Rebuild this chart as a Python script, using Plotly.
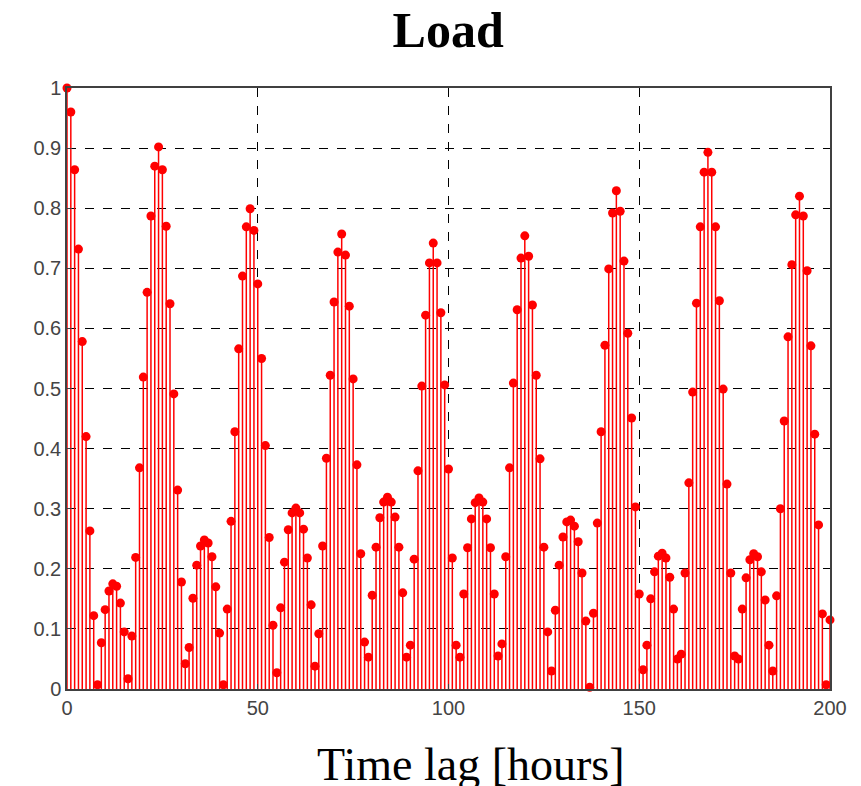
import plotly.graph_objects as go

lags = list(range(0, 201))
acf = [
    1.000, 0.960, 0.864, 0.732, 0.578, 0.420, 0.263, 0.122, 0.007, 0.077,
    0.132, 0.163, 0.175, 0.171, 0.143, 0.095, 0.017, 0.088, 0.219, 0.368,
    0.519, 0.660, 0.787, 0.870, 0.902, 0.864, 0.770, 0.641, 0.491, 0.331,
    0.178, 0.042, 0.069, 0.151, 0.206, 0.238, 0.248, 0.243, 0.220, 0.170,
    0.093, 0.007, 0.133, 0.279, 0.428, 0.566, 0.687, 0.769, 0.799, 0.763,
    0.674, 0.550, 0.405, 0.252, 0.106, 0.027, 0.135, 0.211, 0.265, 0.293,
    0.301, 0.293, 0.266, 0.218, 0.140, 0.038, 0.092, 0.238, 0.384, 0.522,
    0.644, 0.727, 0.757, 0.722, 0.637, 0.516, 0.373, 0.225, 0.078, 0.053,
    0.156, 0.236, 0.285, 0.311, 0.319, 0.311, 0.286, 0.236, 0.160, 0.053,
    0.073, 0.216, 0.363, 0.504, 0.622, 0.709, 0.742, 0.709, 0.626, 0.506,
    0.366, 0.218, 0.073, 0.053, 0.158, 0.235, 0.283, 0.310, 0.318, 0.311,
    0.283, 0.235, 0.158, 0.055, 0.075, 0.220, 0.368, 0.509, 0.631, 0.717,
    0.754, 0.720, 0.639, 0.522, 0.383, 0.236, 0.095, 0.030, 0.131, 0.206,
    0.253, 0.278, 0.281, 0.271, 0.245, 0.193, 0.113, 0.003, 0.126, 0.276,
    0.428, 0.572, 0.699, 0.792, 0.829, 0.795, 0.712, 0.592, 0.451, 0.303,
    0.158, 0.032, 0.073, 0.150, 0.195, 0.221, 0.226, 0.218, 0.186, 0.133,
    0.050, 0.058, 0.193, 0.343, 0.494, 0.642, 0.769, 0.860, 0.893, 0.860,
    0.769, 0.646, 0.499, 0.341, 0.193, 0.055, 0.050, 0.133, 0.185, 0.215,
    0.225, 0.220, 0.195, 0.148, 0.073, 0.030, 0.155, 0.300, 0.446, 0.586,
    0.706, 0.789, 0.820, 0.787, 0.696, 0.571, 0.424, 0.273, 0.125, 0.007,
    0.115,
]

x_ticks = [0, 50, 100, 150, 200]
y_ticks = [0, 0.1, 0.2, 0.3, 0.4, 0.5, 0.6, 0.7, 0.8, 0.9, 1]
y_tick_text = ["0", "0.1", "0.2", "0.3", "0.4", "0.5", "0.6", "0.7", "0.8", "0.9", "1"]

# stems built from the data
sx, sy = [], []
for lx, v in zip(lags, acf):
    sx += [lx, lx, None]
    sy += [0, v, None]

fig = go.Figure()
fig.add_trace(go.Scatter(x=sx, y=sy, mode="lines",
                         line=dict(color="red", width=1.5),
                         hoverinfo="skip", showlegend=False))
fig.add_trace(go.Scatter(x=lags, y=acf, mode="markers",
                         marker=dict(color="red", size=9, symbol="circle"),
                         cliponaxis=False, showlegend=False))

axis_common = dict(showline=True, mirror=True, linecolor="#404040", linewidth=1.5,
                   ticks="inside", ticklen=5, tickcolor="#404040",
                   showgrid=True, gridcolor="black", gridwidth=1, griddash="dash",
                   zeroline=False,
                   tickfont=dict(family="Liberation Sans, Arial, sans-serif", size=20, color="#444444"))

fig.update_xaxes(range=[0, 200], tickvals=x_ticks, **axis_common)
fig.update_yaxes(range=[0, 1], tickvals=y_ticks, ticktext=y_tick_text, **axis_common)

fig.add_annotation(text="Time lag [hours]", xref="paper", yref="paper",
                   x=0.5295, y=-0.125, xanchor="center", yanchor="middle",
                   showarrow=False,
                   font=dict(family="Liberation Serif, Times New Roman, serif", size=46, color="black"))

fig.update_layout(
    width=853, height=778,
    margin=dict(l=59, r=31, t=80, b=97),
    paper_bgcolor="white", plot_bgcolor="white",
    title=dict(text="<b>Load</b>", x=0.516, xanchor="center", y=0.972, yanchor="middle",
               font=dict(family="Liberation Serif, Times New Roman, serif", size=50, color="black")),
)

fig.write_html("out.html")
